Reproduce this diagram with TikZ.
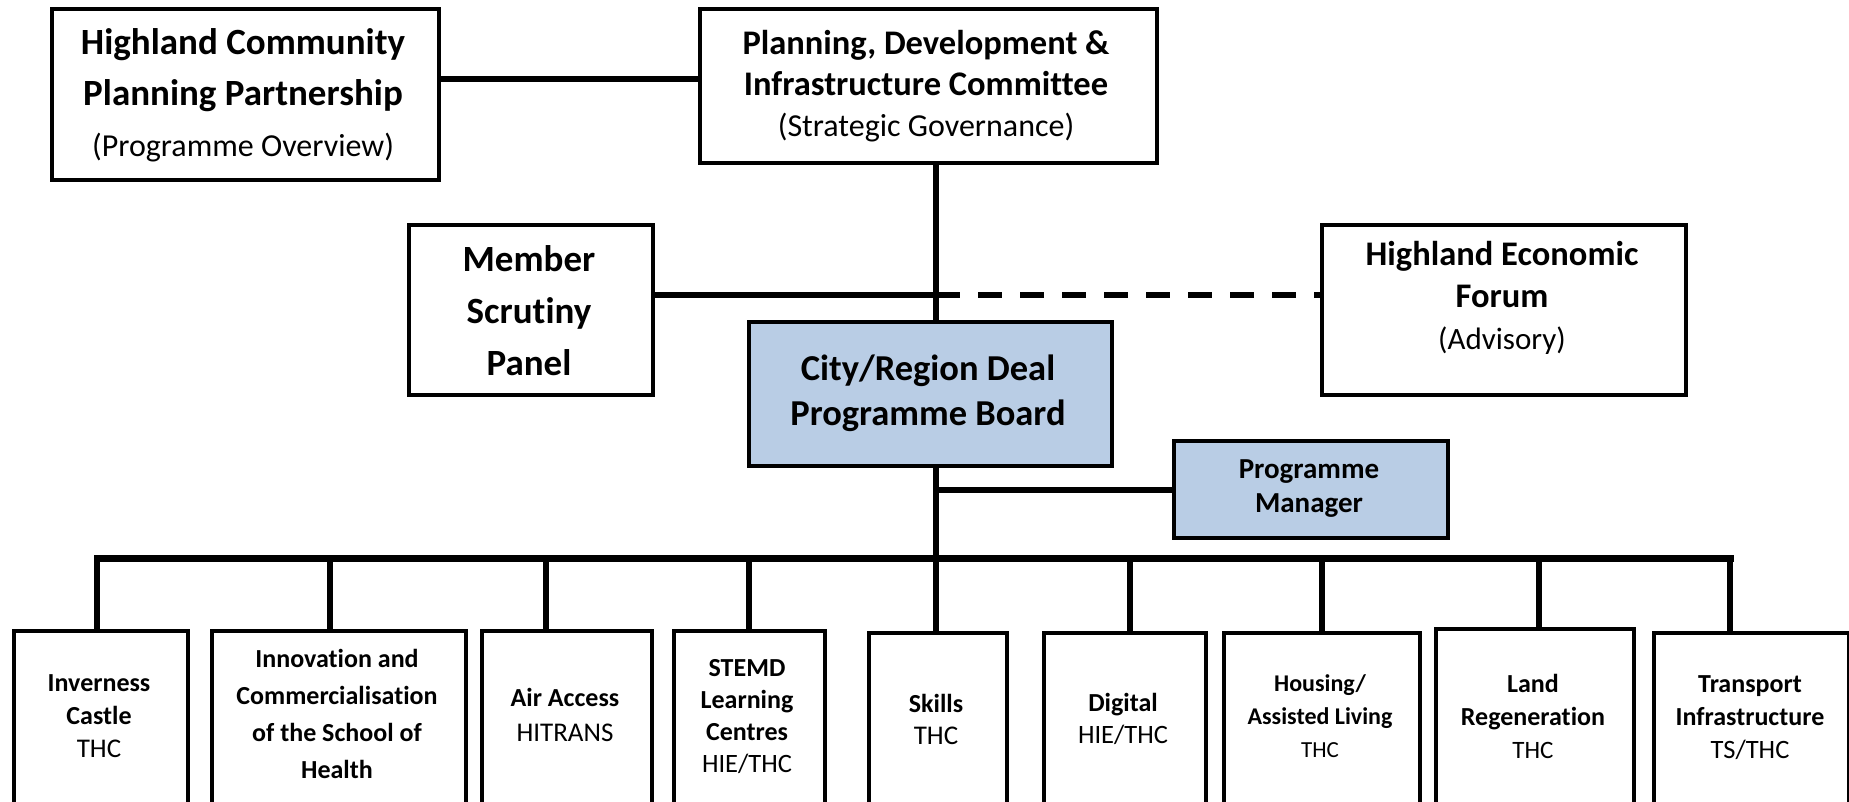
\documentclass[tikz,border=0pt]{standalone}
\usepackage{fontspec}
\setmainfont{Carlito}[Ligatures={NoCommon}]
\newcommand\fs[2]{\fontsize{#1}{#2}\selectfont}
\definecolor{boxblue}{HTML}{B9CDE5}
\begin{document}
\begin{tikzpicture}[x=1pt,y=-1pt,
  box/.style={draw=black, line width=4pt, fill=white, inner sep=0pt, anchor=north west},
  bluebox/.style={box, fill=boxblue},
  lbl/.style={align=center, inner sep=0pt, text=black},
  conn/.style={line width=6pt},
  drop/.style={line width=5.5pt},
  busline/.style={line width=7pt, line cap=rect},
  dashconn/.style={line width=5.5pt, dash pattern=on 24pt off 18pt}]
\useasboundingbox (0,0) rectangle (1849,802);
\clip (0,0) rectangle (1849,802);
% boxes
\node[box, minimum width=387pt, minimum height=171pt] (hcpp) at (50,7) {};
\node[box, minimum width=457pt, minimum height=154pt] (pdic) at (698,7) {};
\node[box, minimum width=244pt, minimum height=170pt] (msp) at (407,223) {};
\node[box, minimum width=364pt, minimum height=170pt] (hef) at (1320,223) {};
\node[bluebox, minimum width=363pt, minimum height=144pt] (crd) at (747,320) {};
\node[bluebox, minimum width=274pt, minimum height=97pt] (pm) at (1172,439) {};
\node[box, minimum width=174pt, minimum height=211pt] (inv) at (12,629) {};
\node[box, minimum width=254pt, minimum height=211pt] (inn) at (210,629) {};
\node[box, minimum width=170pt, minimum height=211pt] (air) at (480,629) {};
\node[box, minimum width=151pt, minimum height=211pt] (stemd) at (672,629) {};
\node[box, minimum width=138pt, minimum height=209pt] (skills) at (867,631) {};
\node[box, minimum width=162pt, minimum height=209pt] (dig) at (1042,631) {};
\node[box, minimum width=196pt, minimum height=209pt] (hous) at (1222,631) {};
\node[box, minimum width=198pt, minimum height=213pt] (land) at (1434,627) {};
\node[box, minimum width=195pt, minimum height=209pt] (trans) at (1652,631) {};
% texts
\node[lbl, font=\bfseries\fs{37}{51}] (hcpp-t) at (243,95) {Highland Community\\Planning Partnership\\{\mdseries\fs{32}{51}(Programme Overview)}};
\node[lbl, font=\bfseries\fs{34.5}{41}] (pdic-t) at (926,86) {Planning, Development \&\\Infrastructure Committee\\{\mdseries\fs{32}{41}(Strategic Governance)}};
\node[lbl, font=\bfseries\fs{37}{52}] (msp-t) at (529,311) {Member\\Scrutiny\\Panel};
\node[lbl, font=\bfseries\fs{34.5}{42}] (hef-t) at (1502,298) {Highland Economic\\Forum\\{\mdseries\fs{31}{42}(Advisory)}};
\node[lbl, font=\bfseries\fs{36.5}{45}] (crd-t) at (928,393) {City/Region Deal\\Programme Board};
\node[lbl, font=\bfseries\fs{29}{34}] (pm-t) at (1309,489) {Programme\\Manager};
\node[lbl, font=\bfseries\fs{26}{33}] (inv-t) at (99,716) {Inverness\\Castle\\{\mdseries\fs{27}{33}THC}};
\node[lbl, font=\bfseries\fs{26}{37}] (inn-t) at (337,714) {Innovation and\\Commercialisation\\of the School of\\Health};
\node[lbl, font=\bfseries\fs{26}{35}] (air-t) at (565,715) {Air Access\\{\mdseries\fs{27}{35}HITRANS}};
\node[lbl, font=\bfseries\fs{26}{32}] (stemd-t) at (747,717) {STEMD\\Learning\\Centres\\{\mdseries\fs{26.5}{32}HIE/THC}};
\node[lbl, font=\bfseries\fs{26}{32}] (skills-t) at (936,719) {Skills\\{\mdseries\fs{27}{32}THC}};
\node[lbl, font=\bfseries\fs{26}{32}] (dig-t) at (1123,719) {Digital\\{\mdseries\fs{26.5}{32}HIE/THC}};
\node[lbl, font=\bfseries\fs{24}{33}] (hous-t) at (1320,716) {Housing/\\Assisted Living\\{\mdseries\fs{23}{33}THC}};
\node[lbl, font=\bfseries\fs{26}{33}] (land-t) at (1533,716) {Land\\Regeneration\\{\mdseries\fs{25}{33}THC}};
\node[lbl, font=\bfseries\fs{26}{33}] (trans-t) at (1750,718) {Transport\\Infrastructure\\{\mdseries\fs{26.5}{33}TS/THC}};
% junction coordinates
\coordinate (spine) at (936,300);
\coordinate (hl) at (560,79);
\coordinate (jn) at (936,295);
\coordinate (busL) at (97,558);
\coordinate (busR) at (1730,558);
% connectors
\draw[conn] (hl -| hcpp.east) -- (hl -| pdic.west);
\draw[conn] (spine |- pdic.south) -- (spine |- crd.north);
\draw[conn] (jn -| msp.east) -- (jn);
\draw[dashconn] (jn) -- (jn -| hef.west);
\draw[conn] (spine |- crd.south) -- (spine |- busL);
\draw[conn] (spine |- pm.west) -- (pm.west);
\draw[busline] (busL) -- (busR);
\draw[drop] (busL) -- (busL |- inv.north);
\draw[drop] (330,558) -- (330,629);
\draw[drop] (546,558) -- (546,629);
\draw[drop] (749,558) -- (749,629);
\draw[drop] (spine |- busL) -- (spine |- skills.north);
\draw[drop] (1130,558) -- (1130,631);
\draw[drop] (1322,558) -- (1322,631);
\draw[drop] (1539,558) -- (1539,627);
\draw[drop] (busR) -- (busR |- trans.north);
\end{tikzpicture}
\end{document}
